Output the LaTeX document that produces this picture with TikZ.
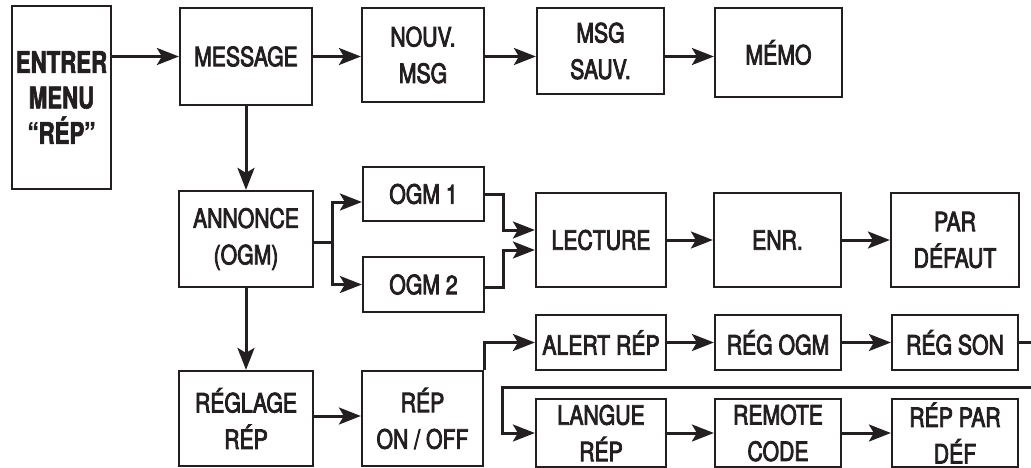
\documentclass[tikz,border=0pt]{standalone}
\usepackage{fontspec}
\setmainfont{TeX Gyre Heros}[FakeStretch=0.8,FakeBold=3]
\newfontfamily\entrerfont{TeX Gyre Heros}[FakeStretch=0.74,FakeBold=2]
\usetikzlibrary{arrows.meta}
\definecolor{ink}{HTML}{231F20}

\begin{document}
\begin{tikzpicture}[x=1pt,y=-1pt,
  box/.style={draw=ink,line width=2.2pt,inner sep=0pt,align=center,text=ink,
    font=\fontsize{26.5}{36.5}\selectfont},
  arr/.style={draw=ink,line width=3pt,-{Stealth[length=22pt,width=17pt,inset=5pt]}},
  wire/.style={draw=ink,line width=3pt}]
  \useasboundingbox (0,0) rectangle (1031,468);

  % Entry box and first row (messages)
  \node[box,minimum width=99pt,minimum height=183pt,
    font=\entrerfont\bfseries\fontsize{30}{35.5}\selectfont] (entrer) at (61.5,97.5) {ENTRER\\MENU\\“RÉP”};
  \node[box,minimum width=132pt,minimum height=97pt] (message) at (246,56.5) {MESSAGE};
  \node[box,minimum width=122pt,minimum height=94pt] (nouv) at (423,55) {NOUV.\\MSG};
  \node[box,minimum width=127pt,minimum height=86pt] (sauv) at (600.5,51) {MSG\\SAUV.};
  \node[box,minimum width=127pt,minimum height=89pt] (memo) at (778.5,52.5) {MÉMO};

  % Second row (greeting)
  \node[box,minimum width=134pt,minimum height=96pt] (annonce) at (246,239) {ANNONCE\\(OGM)};
  \node[box,minimum width=121pt,minimum height=54pt] (ogm1) at (423.5,194) {OGM 1};
  \node[box,minimum width=121pt,minimum height=55pt] (ogm2) at (423.5,284.5) {OGM 2};
  \node[box,minimum width=130pt,minimum height=94pt] (lecture) at (601,240) {LECTURE};
  \node[box,minimum width=127pt,minimum height=94pt] (enr) at (777.5,240) {ENR.};
  \node[box,minimum width=128pt,minimum height=94pt] (defaut) at (955,240) {PAR\\DÉFAUT};

  % Third row (settings)
  \node[box,minimum width=134pt,minimum height=95pt] (reglage) at (246,418.5) {RÉGLAGE\\RÉP};
  \node[box,minimum width=121pt,minimum height=95pt] (onoff) at (422.5,418.5) {RÉP\\ON / OFF};
  \node[box,minimum width=130pt,minimum height=55pt] (alert) at (601,342.5) {ALERT RÉP};
  \node[box,minimum width=126pt,minimum height=55pt] (regogm) at (778,342.5) {RÉG OGM};
  \node[box,minimum width=126pt,minimum height=55pt] (regson) at (955,342.5) {RÉG SON};
  \node[box,minimum width=130pt,minimum height=68pt] (langue) at (601,433) {LANGUE\\RÉP};
  \node[box,minimum width=126pt,minimum height=68pt] (remote) at (778,433) {REMOTE\\CODE};
  \node[box,minimum width=126pt,minimum height=68pt] (repdef) at (955,433) {RÉP PAR\\DÉF};

  % Connectors, first row
  \draw[arr] (entrer.east |- message.west) -- (message.west);
  \draw[arr] (message.east) -- (message.east -| nouv.west);
  \draw[arr] (nouv.east |- message.east) -- (message.east -| sauv.west);
  \draw[arr] (sauv.east |- message.east) -- (message.east -| memo.west);
  \draw[arr] (message) -- (annonce);
  \draw[arr] (annonce) -- (reglage);

  % Greeting branch
  \coordinate (split) at (332,242);
  \coordinate (j1) at (503,230);
  \coordinate (j2) at (503,250);
  \draw[wire] (annonce.east |- split) -- (split);
  \draw[arr] (split) |- ([yshift=-8pt]ogm1.west);
  \draw[arr] (split) |- (ogm2.west);
  \draw[arr] (ogm1.east) -| (j1) -- (j1 -| lecture.west);
  \draw[arr] ([yshift=-2.5pt]ogm2.east) -| (j2) -- (j2 -| lecture.west);
  \draw[arr] (lecture) -- (enr);
  \draw[arr] (enr) -- (defaut);

  % Settings chain, wrapping past the right edge
  \coordinate (edgeA) at (1031,342.5);
  \coordinate (edgeB) at (1031,387);
  \coordinate (turn) at (502,387);
  \draw[arr] (reglage.east |- 0,416) -- (onoff.west |- 0,416);
  \draw[arr] (onoff.north east) |- (alert.west);
  \draw[arr] (alert) -- (regogm);
  \draw[arr] (regogm) -- (regson);
  \draw[wire] (regson.east) -- (edgeA);
  \draw[arr] (edgeB) -- (turn) |- (langue.west);
  \draw[arr] (langue) -- (remote);
  \draw[arr] (remote) -- (repdef);
\end{tikzpicture}
\end{document}
